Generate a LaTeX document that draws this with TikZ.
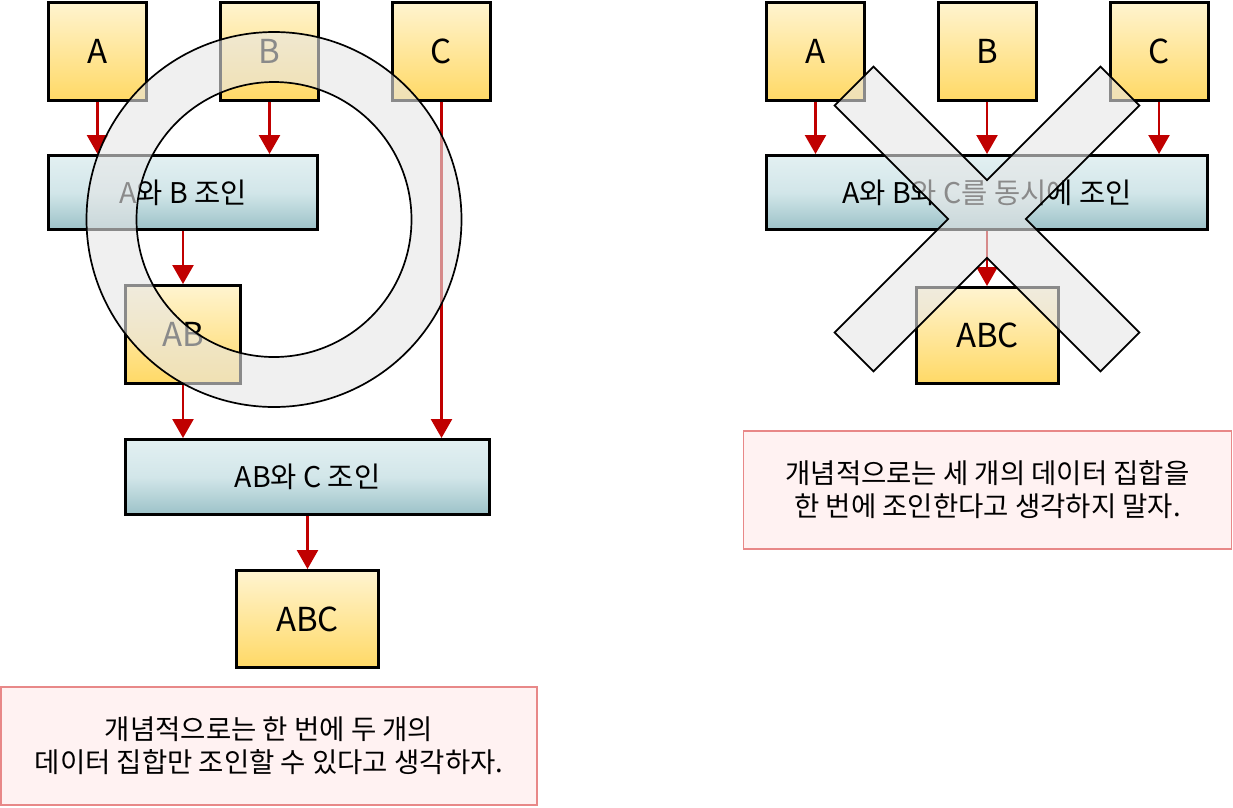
\documentclass[tikz,border=0pt]{standalone}
\usepackage{fontspec}
\setmainfont{Noto Sans CJK KR}
\usetikzlibrary{arrows.meta}
\definecolor{ytop}{HTML}{FFF4D0}
\definecolor{ybot}{HTML}{FFD966}
\definecolor{btop}{HTML}{E3F0F2}
\definecolor{bmid}{HTML}{D2E6E9}
\definecolor{bbot}{HTML}{9CC2C8}
\definecolor{arr}{HTML}{C00000}
\definecolor{notefill}{HTML}{FFF2F2}
\definecolor{notedraw}{HTML}{E88888}
\definecolor{ovl}{HTML}{E6E6E6}
\begin{document}
\begin{tikzpicture}[x=1pt,y=-1pt,
 ybox/.style={draw=black, line width=3pt, shading=axis, top color=ytop, bottom color=ybot, inner sep=0pt, font=\fontsize{33}{38}\selectfont},
 jbox/.style={draw=black, line width=3pt, shading=axis, top color=btop, bottom color=bbot, middle color=bmid, inner sep=0pt, font=\fontsize{28.5}{32}\selectfont},
 notebox/.style={draw=notedraw, line width=1.2pt, fill=notefill, align=center, inner sep=0pt, font=\fontsize{27.5}{33}\selectfont},
 redarrow/.style={draw=arr, line width=2.5pt, -{Triangle[width=21pt,length=19pt]}},
 ghost/.style={fill=ovl, fill opacity=0.6, draw=black, line width=1.7pt}
]
\useasboundingbox (0,0) rectangle (1233,807);
% ---------- left ----------
\node[ybox, minimum width=98pt, minimum height=98pt] (lA) at (97.5,51) {A};
\node[ybox, minimum width=98pt, minimum height=98pt] (lB) at (269.5,51) {B};
\node[ybox, minimum width=98pt, minimum height=98pt] (lC) at (441.5,51) {C};
\node[jbox, minimum width=269pt, minimum height=74pt] (lJ1) at (183,192.5) {A와 B 조인};
\node[ybox, minimum width=115pt, minimum height=98pt] (lAB) at (183,334.5) {AB};
\node[jbox, minimum width=364pt, minimum height=75pt] (lJ2) at (307.5,477) {AB와 C 조인};
\node[ybox, minimum width=142pt, minimum height=97pt] (lABC) at (307.5,619) {ABC};
\node[notebox, minimum width=536pt, minimum height=118pt] (lN) at (269,746) {개념적으로는 한 번에 두 개의\\데이터 집합만 조인할 수 있다고 생각하자.};
\draw[redarrow] (lA.south) -- (lA.south |- lJ1.north);
\draw[redarrow] (lB.south) -- (lB.south |- lJ1.north);
\draw[redarrow] (lC.south) -- (lC.south |- lJ2.north);
\draw[redarrow] (lJ1.south) -- (lJ1.south |- lAB.north);
\draw[redarrow] (lAB.south) -- (lAB.south |- lJ2.north);
\draw[redarrow] (lJ2.south) -- (lJ2.south |- lABC.north);
\path[ghost, even odd rule] (274,219.5) circle[radius=187.5pt] (274,219.5) circle[radius=137.5pt];
% ---------- right ----------
\node[ybox, minimum width=98pt, minimum height=98pt] (rA) at (815.5,51) {A};
\node[ybox, minimum width=98pt, minimum height=98pt] (rB) at (987,51) {B};
\node[ybox, minimum width=98pt, minimum height=98pt] (rC) at (1159,51) {C};
\node[jbox, minimum width=441pt, minimum height=74pt] (rJ) at (987,192.5) {A와 B와 C를 동시에 조인};
\node[ybox, minimum width=142pt, minimum height=96pt] (rABC) at (987.5,335.5) {ABC};
\node[notebox, minimum width=488pt, minimum height=118pt] (rN) at (987.5,490) {개념적으로는 세 개의 데이터 집합을\\한 번에 조인한다고 생각하지 말자.};
\draw[redarrow] (rA.south) -- (rA.south |- rJ.north);
\draw[redarrow] (rB.south) -- (rB.south |- rJ.north);
\draw[redarrow] (rC.south) -- (rC.south |- rJ.north);
\draw[redarrow] (rJ.south) -- (rJ.south |- rABC.north);
\begin{scope}[shift={(987,219)}, rotate=45]
\path[ghost] (27.5,188) -- (27.5,27.5) -- (188,27.5) -- (188,-27.5) -- (27.5,-27.5) -- (27.5,-188)
  -- (-27.5,-188) -- (-27.5,-27.5) -- (-188,-27.5) -- (-188,27.5) -- (-27.5,27.5) -- (-27.5,188) -- cycle;
\end{scope}
\end{tikzpicture}
\end{document}
